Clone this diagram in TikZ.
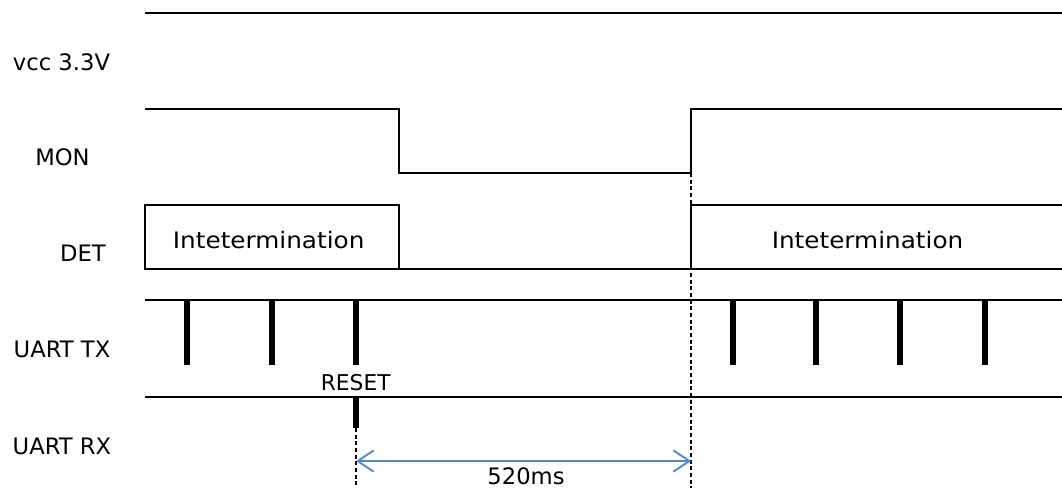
\documentclass[tikz,border=0pt]{standalone}
\usepackage{fontspec}
\setmainfont{DejaVu Sans}
\newfontfamily\widefont[FakeStretch=1.09]{DejaVu Sans}
\usetikzlibrary{arrows.meta}
\definecolor{dimblue}{RGB}{84,135,205}
\begin{document}
\begin{tikzpicture}[x=0.75pt,y=-0.75pt,
  sig/.style={line width=1.5pt},
  pulse/.style={line width=4.2pt},
  guide/.style={line width=1.1pt, dash pattern=on 3pt off 2pt},
  dim/.style={draw=dimblue, line width=1.4pt, {Straight Barb[length=12pt,width=16pt]}-{Straight Barb[length=12pt,width=16pt]}},
  lab/.style={font=\fontsize{17}{20}\selectfont, inner sep=0pt, anchor=base}]
\useasboundingbox (0,0) rectangle (1062,488);
% vcc
\draw[sig] (145,13) -- (1062,13);
% MON
\draw[sig] (145,109) -- (399,109) -- (399,173) -- (691,173) -- (691,109) -- (1062,109);
% DET
\draw[sig] (145,205) rectangle (399,269);
\draw[sig] (399,269) -- (691,269);
\draw[sig] (1062,205) -- (691,205) -- (691,269) -- (1062,269);
% UART TX
\draw[sig] (145,300) -- (1062,300);
\foreach \px in {187,272,356,733,816,900,985}
  \draw[pulse] (\px,300) -- (\px,365);
% UART RX
\draw[sig] (145,397) -- (1062,397);
\draw[pulse] (356,397) -- (356,428);
% guides
\coordinate (g1a) at (356,428);
\coordinate (g1b) at (356,488);
\coordinate (g2a) at (691,173);
\coordinate (g2b) at (691,488);
\draw[guide] (g1a) -- (g1b);
\draw[guide] (g2a) -- (g2b);
% dimension
\coordinate (d1) at (356,461);
\coordinate (d2) at (691,461);
\draw[dim] (d1) -- (d2);
% labels
\node[lab] (lvcc) at (61.5,70.5) {vcc 3.3V};
\node[lab] (lmon) at (62.5,165.5) {MON};
\node[lab] (ldet) at (83,261.5) {DET};
\node[lab] (ltx) at (62,357.5) {UART TX};
\node[lab] (lrx) at (62,454) {UART RX};
\node[lab,font=\fontsize{17}{20}\widefont] (int1) at (268.7,248.3) {Intetermination};
\node[lab,font=\fontsize{17}{20}\widefont] (int2) at (867.5,248.3) {Intetermination};
\node[lab,font=\fontsize{16.3}{20}\selectfont] (rst) at (355.7,390.7) {RESET};
\node[lab] (ms) at (526,484) {520ms};
\end{tikzpicture}
\end{document}
